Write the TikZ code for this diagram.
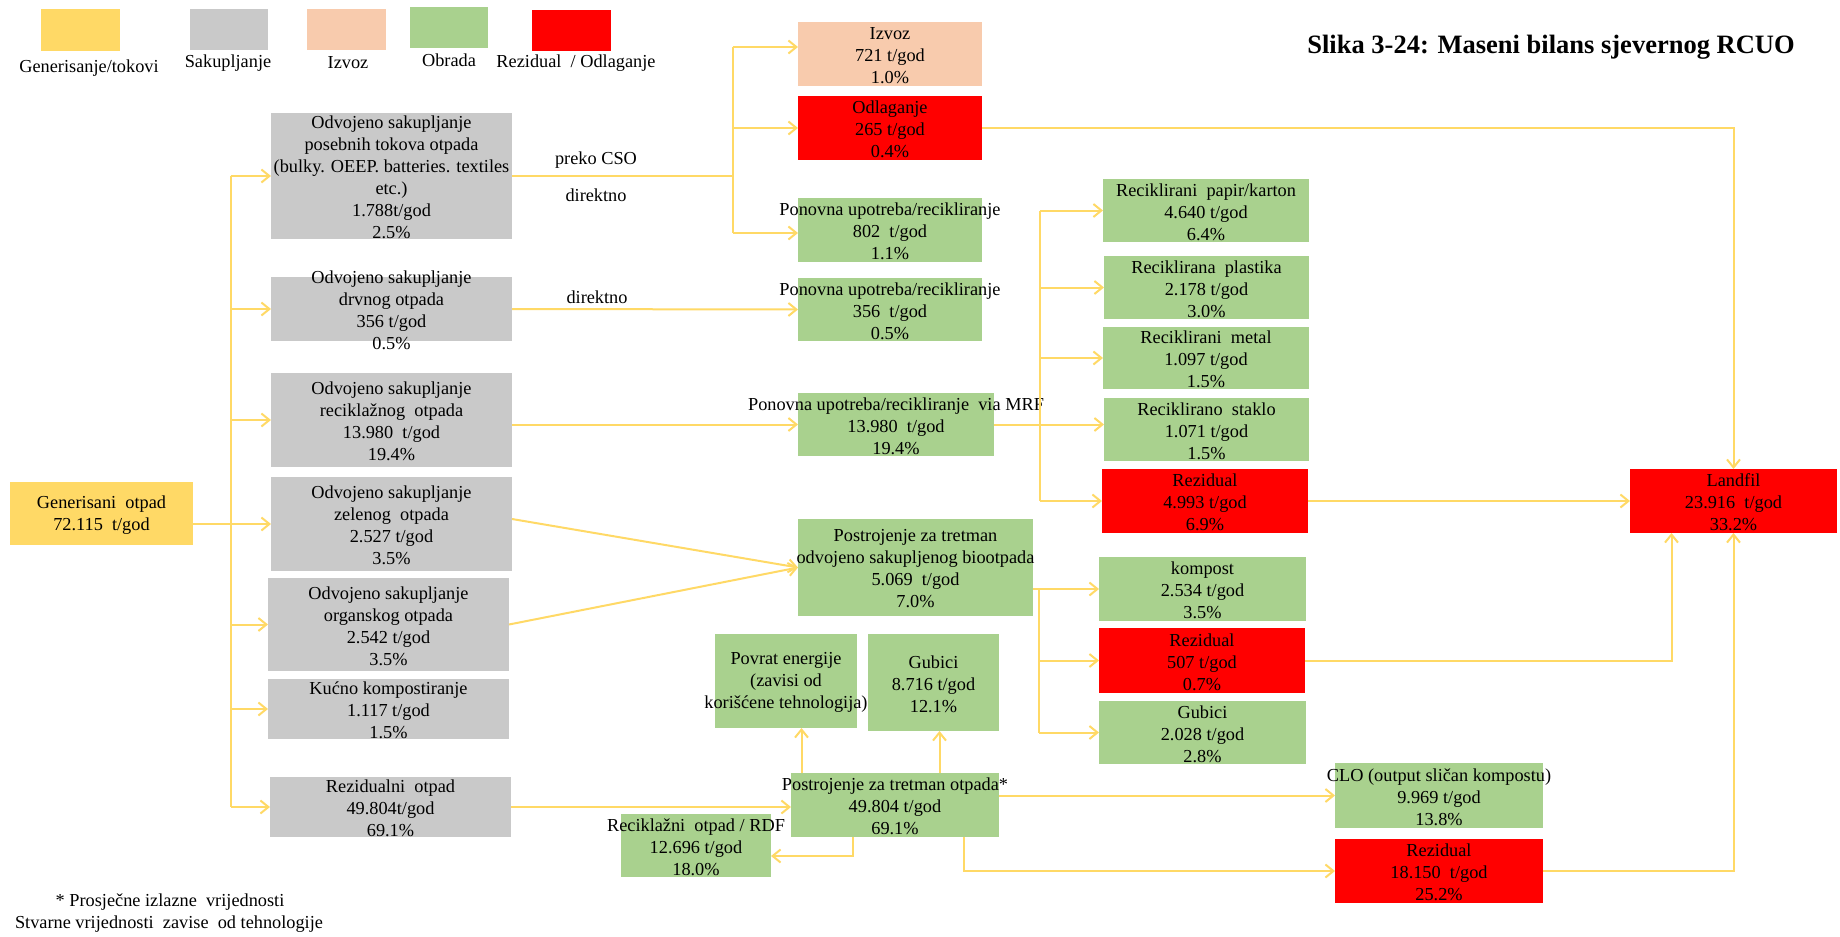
\documentclass[tikz,border=0pt]{standalone}
\usepackage{fontspec}
\setmainfont{Liberation Serif}
\usetikzlibrary{arrows.meta}

\definecolor{cgen}{HTML}{FFD966}
\definecolor{csak}{HTML}{C9C9C9}
\definecolor{cizv}{HTML}{F8CBAD}
\definecolor{cobr}{HTML}{A9D18E}
\definecolor{crez}{HTML}{FF0000}
\definecolor{cflow}{HTML}{FFD966}

\tikzset{
  boxsh/.style={rectangle, draw=none, inner sep=0pt, outer sep=0pt},
  txt/.style={align=center, inner sep=0pt, font=\fontsize{18.3}{22}\selectfont},
  ln/.style={draw=cflow, line width=2pt},
  arr/.style={ln, -{Straight Barb[length=8pt,width=13pt]}},
}

% box: name, colour, left, top, right, bottom, text
\newcommand\flowbox[7]{%
  \node[boxsh, fill=#2, minimum width={(#5-#3)*1pt}, minimum height={(#6-#4)*1pt}]
    (#1) at ({(#3+#5)/2},{(#4+#6)/2}) {};
  \node[txt] (#1t) at ([yshift=-1.5pt]#1.center) {#7};}

\begin{document}
\begin{tikzpicture}[x=1pt, y=-1pt]
\fill[white] (0,0) rectangle (1840,937);
\useasboundingbox (0,0) rectangle (1840,937);

% legend
\node[boxsh, fill=cgen, minimum width=79pt, minimum height=42pt] (lgA) at (80.5,30) {};
\node[boxsh, fill=csak, minimum width=78pt, minimum height=41pt] (lgB) at (229,29.5) {};
\node[boxsh, fill=cizv, minimum width=79pt, minimum height=41pt] (lgC) at (346.5,29.5) {};
\node[boxsh, fill=cobr, minimum width=78pt, minimum height=41pt] (lgD) at (449,27.5) {};
\node[boxsh, fill=crez, minimum width=79pt, minimum height=41pt] (lgE) at (571.5,30.5) {};
\node[txt] (lgAt) at (89,68) {Generisanje/tokovi};
\node[txt] (lgBt) at (228,63) {Sakupljanje};
\node[txt] (lgCt) at (348,63) {Izvoz};
\node[txt] (lgDt) at (449,60) {Obrada};
\node[txt] (lgEt) at (576,63) {Rezidual~ / Odlaganje};

\node[inner sep=0pt, font=\bfseries\fontsize{26.5}{30}\selectfont] (title) at (1551,47)
  {Slika 3-24: Maseni bilans sjevernog RCUO};

% generation and collection
\flowbox{g0}{cgen}{10}{482}{193}{545}{Generisani~ otpad\\72.115~ t/god}
\flowbox{s1}{csak}{271}{113}{512}{239}{Odvojeno sakupljanje\\posebnih tokova otpada\\(bulky. OEEP. batteries. textiles\\etc.)\\1.788t/god\\2.5\%}
\flowbox{s2}{csak}{271}{277}{512}{341}{Odvojeno sakupljanje\\drvnog otpada\\356 t/god\\0.5\%}
\flowbox{s3}{csak}{271}{373}{512}{467}{Odvojeno sakupljanje\\reciklažnog~ otpada\\13.980~ t/god\\19.4\%}
\flowbox{s4}{csak}{271}{477}{512}{571}{Odvojeno sakupljanje\\zelenog~ otpada\\2.527 t/god\\3.5\%}
\flowbox{s5}{csak}{268}{578}{509}{671}{Odvojeno sakupljanje\\organskog otpada\\2.542 t/god\\3.5\%}
\flowbox{s6}{csak}{268}{679}{509}{739}{Kućno kompostiranje\\1.117 t/god\\1.5\%}
\flowbox{s7}{csak}{270}{777}{511}{837}{Rezidualni~ otpad\\49.804t/god\\69.1\%}

% first treatment column
\flowbox{e1}{cizv}{798}{22}{982}{86}{Izvoz\\721 t/god\\1.0\%}
\flowbox{d1}{crez}{798}{96}{982}{160}{Odlaganje\\265 t/god\\0.4\%}
\flowbox{r1}{cobr}{798}{198}{982}{262}{Ponovna upotreba/recikliranje\\802~ t/god\\1.1\%}
\flowbox{r2}{cobr}{798}{278}{982}{341}{Ponovna upotreba/recikliranje\\356~ t/god\\0.5\%}
\flowbox{mrf}{cobr}{798}{393}{994}{456}{Ponovna upotreba/recikliranje~ via MRF\\13.980~ t/god\\19.4\%}
\flowbox{bio}{cobr}{798}{519}{1033}{616}{Postrojenje za tretman\\odvojeno sakupljenog biootpada\\5.069~ t/god\\7.0\%}

% MRF and bio products
\flowbox{p1}{cobr}{1103}{179}{1309}{242}{Reciklirani~ papir/karton\\4.640 t/god\\6.4\%}
\flowbox{p2}{cobr}{1104}{256}{1309}{319}{Reciklirana~ plastika\\2.178 t/god\\3.0\%}
\flowbox{p3}{cobr}{1103}{327}{1309}{389}{Reciklirani~ metal\\1.097 t/god\\1.5\%}
\flowbox{p4}{cobr}{1104}{398}{1309}{461}{Reciklirano~ staklo\\1.071 t/god\\1.5\%}
\flowbox{z1}{crez}{1102}{469}{1308}{533}{Rezidual\\4.993 t/god\\6.9\%}
\flowbox{k1}{cobr}{1099}{557}{1306}{621}{kompost\\2.534 t/god\\3.5\%}
\flowbox{z2}{crez}{1099}{628}{1305}{693}{Rezidual\\507 t/god\\0.7\%}
\flowbox{k2}{cobr}{1099}{701}{1306}{764}{Gubici\\2.028 t/god\\2.8\%}
\flowbox{lf}{crez}{1630}{469}{1837}{533}{Landfil\\23.916~ t/god\\33.2\%}

% residual waste treatment
\flowbox{pe}{cobr}{715}{634}{857}{728}{Povrat energije\\(zavisi od\\korišćene tehnologija)}
\flowbox{gb}{cobr}{868}{634}{999}{731}{Gubici\\8.716 t/god\\12.1\%}
\flowbox{pl}{cobr}{791}{773}{999}{837}{Postrojenje za tretman otpada*\\49.804 t/god\\69.1\%}
\flowbox{rdf}{cobr}{621}{814}{771}{877}{Reciklažni~ otpad / RDF\\12.696 t/god\\18.0\%}
\flowbox{clo}{cobr}{1335}{763}{1543}{828}{CLO (output sličan kompostu)\\9.969 t/god\\13.8\%}
\flowbox{z3}{crez}{1335}{839}{1543}{903}{Rezidual\\18.150~ t/god\\25.2\%}

% flow labels and notes
\node[txt] (lcso) at (596,160) {preko CSO};
\node[txt] (ldir1) at (596,195) {direktno};
\node[txt] (ldir2) at (597,297) {direktno};
\node[txt] (fn1) at (170,902) {* Prosječne izlazne~ vrijednosti};
\node[txt] (fn2) at (169,924) {Stvarne vrijednosti~ zavise~ od tehnologije};

% collection trunk
\coordinate (trunk) at (230.5,0);
\draw[ln] (g0.east |- s4.west) -- (s4.west -| trunk);
\draw[ln] (s1.west -| trunk) -- (s7.west -| trunk);
\foreach \b in {s1,s2,s3,s4,s5,s6,s7} \draw[arr] (\b.west -| trunk) -- (\b.west);

% special streams split
\coordinate (tj) at (732.7,0);
\coordinate (e1in) at ([yshift=7pt]e1.west);
\coordinate (r1in) at ([yshift=-3pt]r1.west);
\draw[ln] (s1.east) -- (s1.east -| tj);
\draw[ln] (e1in -| tj) -- (r1in -| tj);
\draw[arr] (e1in -| tj) -- (e1in);
\draw[arr] (d1.west -| tj) -- (d1.west);
\draw[arr] (r1in -| tj) -- (r1in);

\draw[arr] (s2.east) -- (r2.west);
\draw[arr] (s3.east |- mrf.west) -- (mrf.west);
\draw[arr] ([yshift=5pt]s4.east) -- (bio.west);
\draw[arr] (s5.east) -- (bio.west);

% MRF outputs
\coordinate (mt) at (1040,0);
\draw[arr] (mrf.east) -- (mrf.east -| p4.west);
\draw[ln] (p1.west -| mt) -- (z1.west -| mt);
\foreach \b in {p1,p2,p3,z1} \draw[arr] (\b.west -| mt) -- (\b.west);

% bio plant outputs
\coordinate (bt) at (1038.5,0);
\draw[arr] (bio.east |- k1.west) -- (k1.west);
\draw[ln] (k1.west -| bt) -- (k2.west -| bt);
\draw[arr] (z2.west -| bt) -- (z2.west);
\draw[arr] (k2.west -| bt) -- (k2.west);

% to landfill
\coordinate (lfl) at ([xshift=-62pt]lf.south);
\draw[arr] (d1.east) -| (lf.north);
\draw[arr] (z1.east) -- (z1.east -| lf.west);
\draw[arr] (z2.east) -| (lfl);
\draw[arr] (z3.east) -| (lf.south);

% residual waste plant
\coordinate (pea) at ([xshift=15.5pt]pe.south);
\coordinate (gba) at ([xshift=6pt]gb.south);
\coordinate (plz) at ([xshift=68.5pt]pl.south);
\coordinate (plr) at ([xshift=-42.4pt]pl.south);
\coordinate (rdfin) at ([yshift=-10.5pt]rdf.east);
\draw[arr] (s7.east) -- (s7.east -| pl.west);
\draw[arr] (pea |- pl.north) -- (pea);
\draw[arr] (gba |- pl.north) -- (gba);
\draw[arr] (pl.east |- clo.west) -- (clo.west);
\draw[arr] (plz) |- (z3.west);
\draw[arr] (plr) |- (rdfin);
\end{tikzpicture}
\end{document}
